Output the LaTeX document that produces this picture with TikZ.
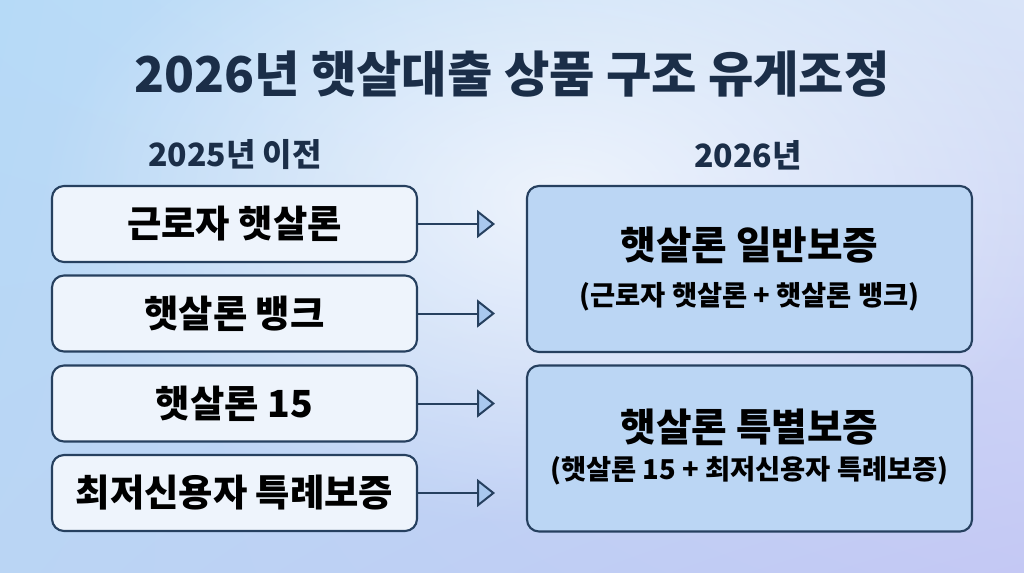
\documentclass[tikz,border=0pt]{standalone}
\usepackage{fontspec}
\setmainfont{Noto Sans CJK KR}[BoldFont={Noto Sans CJK KR Black}]
\usetikzlibrary{arrows.meta,fadings,shadings}
\definecolor{navy}{HTML}{1B2E48}
\definecolor{edge}{HTML}{26405F}
\definecolor{leftfill}{HTML}{EEF4FC}
\definecolor{rightfill}{HTML}{BBD6F4}
\definecolor{arrowfill}{HTML}{A9C8EE}
\definecolor{bgUL}{HTML}{B6DAF7}
\definecolor{bgUR}{HTML}{D9E4F8}
\definecolor{bgLL}{HTML}{BAD5F4}
\definecolor{bgLR}{HTML}{C4C8F4}
\tikzfading[name=glow, inner color=transparent!30, outer color=transparent!100]
\tikzset{
  oldbox/.style={draw=edge, line width=1.6pt, fill=leftfill, rounded corners=9pt,
    minimum width=273.75pt, minimum height=57pt, font=\fontsize{28}{32}\selectfont\bfseries, text=black},
  newbox/.style={draw=edge, line width=1.6pt, fill=rightfill, rounded corners=9pt,
    minimum width=333.75pt, minimum height=124.5pt},
  newtitle/.style={font=\fontsize{29}{34}\selectfont\bfseries, text=black},
  newsub/.style={font=\fontsize{20.5}{26}\selectfont\bfseries, text=black},
  header/.style={font=\fontsize{24}{28}\selectfont\bfseries, text=navy},
  flow/.style={draw=edge, line width=1.5pt, -{Triangle[length=13.5pt,width=21pt,fill=arrowfill]}}
}
\begin{document}
\begin{tikzpicture}[x=0.75pt,y=-0.75pt]
\useasboundingbox (0,0) rectangle (1024,572);
\shade[upper left=bgUL, upper right=bgUR, lower left=bgLL, lower right=bgLR] (0,0) rectangle (1024,572);
\fill[white, path fading=glow] (560,200) ellipse (520 and 330);

\node[font=\fontsize{37}{42}\selectfont\bfseries, text=navy] (title) at (512,74) {2026년 햇살대출 상품 구조 유게조정};
\node[header] (hl) at (235,155) {2025년 이전};
\node[header] (hr) at (748,155) {2026년};

\node[oldbox] (l1) at (234.5,224) {근로자 햇살론};
\node[oldbox] (l2) at (234.5,313.5) {햇살론 뱅크};
\node[oldbox] (l3) at (234.5,403.5) {햇살론 15};
\node[oldbox] (l4) at (234.5,493) {최저신용자 특례보증};

\node[newbox] (ra) at (749.5,269) {};
\node[newbox] (rb) at (749.5,448.5) {};
\node[newtitle] (rat) at (749.5,245) {햇살론 일반보증};
\node[newsub] (ras) at (749.5,297) {(근로자 햇살론 + 햇살론 뱅크)};
\node[newtitle] (rbt) at (749.5,427) {햇살론 특별보증};
\node[newsub] (rbs) at (749.5,471) {(햇살론 15 + 최저신용자 특례보증)};

\coordinate (t1) at (495,224);
\coordinate (t2) at (495,313.5);
\coordinate (t3) at (495,403.5);
\coordinate (t4) at (495,493);
\draw[flow] (l1.east) -- (t1);
\draw[flow] (l2.east) -- (t2);
\draw[flow] (l3.east) -- (t3);
\draw[flow] (l4.east) -- (t4);
\end{tikzpicture}
\end{document}
